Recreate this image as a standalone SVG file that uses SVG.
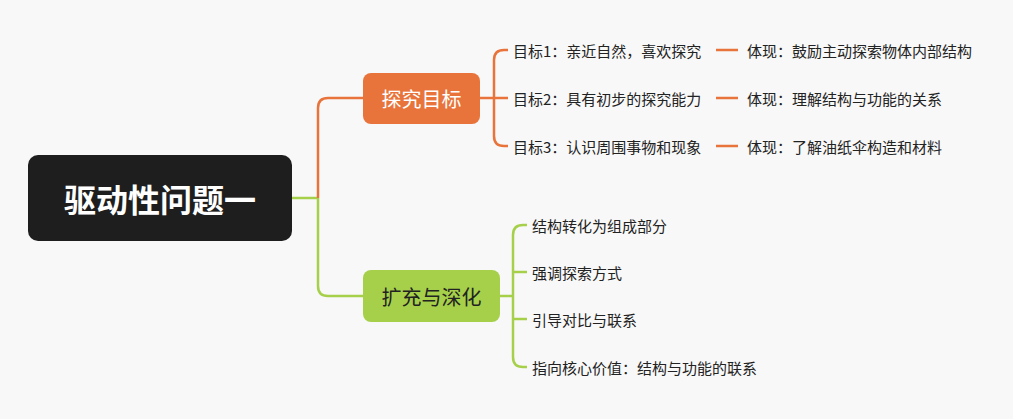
<svg xmlns="http://www.w3.org/2000/svg" width="1013" height="419" viewBox="0 0 1013 419">
<style>
text{font-family:"Noto Sans CJK SC","Noto Sans",sans-serif;dominant-baseline:central}
.t{font-size:15px;fill:#222}
.o{stroke:#e8743b;stroke-width:2.5;fill:none}
.g{stroke:#a6d04a;stroke-width:2.5;fill:none}
</style>
<rect width="1013" height="419" fill="#f8f8f8"/>
<g id="connectors">
<path class="g" d="M292 198 H318"/>
<path class="o" d="M363 98 H328 Q318 98 318 108 V198"/>
<path class="g" d="M363 296 H328 Q318 296 318 286 V198"/>
<path class="o" d="M480 98 H494 M504 50 Q494 50 494 60 V136 Q494 146 504 146 H508 M494 98 H508 M504 50 H508"/>
<path class="o" d="M716 50 H738 M716 98 H738 M716 146 H738"/>
<path class="g" d="M500 296 H513 M523 225 Q513 225 513 235 V357 Q513 367 523 367 H527 M523 225 H527 M513 272 H527 M513 319 H527"/>
</g>
<g id="root"><rect x="28" y="155" width="264" height="86" rx="10" fill="#1e1e1e"/><text x="160" y="198" text-anchor="middle" font-size="32" font-weight="bold" fill="#fff">驱动性问题一</text></g>
<g id="n1"><rect x="363" y="73" width="117" height="51" rx="8" fill="#e8743b"/><text x="421.5" y="98.5" text-anchor="middle" font-size="20" fill="#fff">探究目标</text></g>
<g id="n2"><rect x="363" y="270" width="137" height="52" rx="8" fill="#a6d04a"/><text x="431.5" y="296" text-anchor="middle" font-size="20" fill="#222">扩充与深化</text></g>
<g id="c1"><text class="t" x="513" y="50">目标1：亲近自然，喜欢探究</text></g>
<g id="c2"><text class="t" x="513" y="98">目标2：具有初步的探究能力</text></g>
<g id="c3"><text class="t" x="513" y="146">目标3：认识周围事物和现象</text></g>
<g id="d1"><text class="t" x="747" y="50">体现：鼓励主动探索物体内部结构</text></g>
<g id="d2"><text class="t" x="747" y="98">体现：理解结构与功能的关系</text></g>
<g id="d3"><text class="t" x="747" y="146">体现：了解油纸伞构造和材料</text></g>
<g id="e1"><text class="t" x="532" y="225">结构转化为组成部分</text></g>
<g id="e2"><text class="t" x="532" y="272">强调探索方式</text></g>
<g id="e3"><text class="t" x="532" y="319">引导对比与联系</text></g>
<g id="e4"><text class="t" x="532" y="367">指向核心价值：结构与功能的联系</text></g>
</svg>
